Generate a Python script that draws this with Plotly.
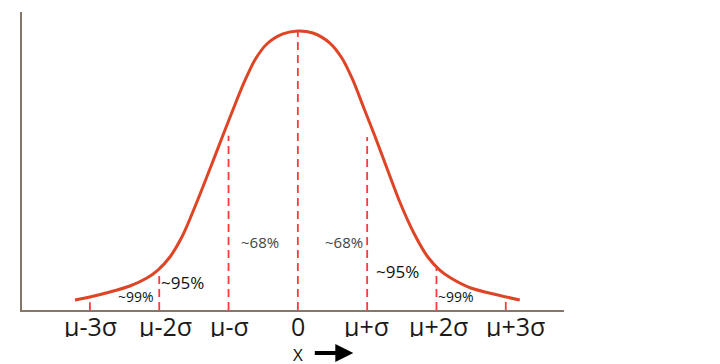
import plotly.graph_objects as go

# Bell curve (x in sigma units, y in density units)
curve_x = [-3.216, -3.000, -2.712, -2.423, -2.178, -2.019, -1.846, -1.659, -1.457, -1.269,
           -1.096, -0.938, -0.779, -0.620, -0.447, -0.216, 0.0, 0.216, 0.462, 0.635,
           0.793, 0.952, 1.111, 1.284, 1.471, 1.673, 1.875, 2.048, 2.207, 2.495, 2.885, 3.202]
curve_y = [0.0143, 0.0186, 0.0257, 0.0343, 0.0457, 0.0571, 0.0757, 0.1071, 0.1543, 0.2014,
           0.2457, 0.2857, 0.3243, 0.3571, 0.3800, 0.3943, 0.3986, 0.3957, 0.3814, 0.3600,
           0.3286, 0.2886, 0.2486, 0.2029, 0.1543, 0.1100, 0.0757, 0.0571, 0.0457, 0.0314,
           0.0214, 0.0143]

# Dashed marker lines at each sigma
sigma_pos = [-3, -2, -1, 0, 1, 2, 3]
sigma_heights = [0.011, 0.054, 0.249, 0.399, 0.247, 0.060, 0.012]
tick_labels = ["μ-3σ", "μ-2σ", "μ-σ", "0", "μ+σ", "μ+2σ", "μ+3σ"]

# Region labels
region_labels = ["~99%", "~95%", "~68%", "~68%", "~95%", "~99%"]

FONT = "Open Sans"

fig = go.Figure()

dx, dy = [], []
for p, h in zip(sigma_pos, sigma_heights):
    dx += [p, p, None]
    dy += [0, h, None]
fig.add_trace(go.Scatter(x=dx, y=dy, mode="lines",
                         line=dict(color="#ff3a3a", width=1.8, dash="8px,5px"),
                         hoverinfo="skip", showlegend=False))

fig.add_trace(go.Scatter(x=curve_x, y=curve_y, mode="lines",
                         line=dict(color="#de4526", width=3, shape="spline", smoothing=0.8),
                         showlegend=False))

label_pos = [(-2.337, 0.020, 14, "#111"), (-1.659, 0.0386, 17, "#111"),
             (-0.548, 0.097, 15, "#444"), (0.663, 0.097, 15, "#444"),
             (1.442, 0.0557, 17, "#111"), (2.279, 0.020, 14, "#111")]
for txt, (x, y, s, c) in zip(region_labels, label_pos):
    fig.add_annotation(x=x, y=y, text=txt, showarrow=False,
                       font=dict(family=FONT, size=s, color=c))

# tick labels as annotations below the axis
shifts = [1, 6, 1, 0, -1, 2, 10]
for p, t, s in zip(sigma_pos, tick_labels, shifts):
    fig.add_annotation(x=p, y=-0.054, xref="x", yref="paper", text=t, showarrow=False,
                       xshift=s, yanchor="middle", height=22,
                       font=dict(family=FONT, size=25, color="#1a1a1a"))

# axis label with arrow
fig.add_annotation(x=0.0, y=-0.148, xref="x", yref="paper", text="X", showarrow=False,
                   yanchor="middle", height=16,
                   font=dict(family=FONT, size=17, color="#111"))
fig.add_annotation(x=0.80, y=-0.144, xref="x", yref="paper", text="", showarrow=True,
                   ax=-40, ay=0, arrowhead=2, arrowsize=0.9, arrowwidth=4,
                   arrowcolor="#000")

fig.update_xaxes(range=[-3.98, 3.84], showline=True, linecolor="#85766a", linewidth=2,
                 showgrid=False, zeroline=False, showticklabels=False, ticks="")
fig.update_yaxes(range=[0, 0.4257], showline=True, linecolor="#85766a", linewidth=2,
                 showgrid=False, zeroline=False, showticklabels=False, ticks="")

fig.update_layout(width=712, height=356, margin=dict(l=14, r=156, t=4, b=54),
                  plot_bgcolor="white", paper_bgcolor="white")

fig.write_html("out.html")
